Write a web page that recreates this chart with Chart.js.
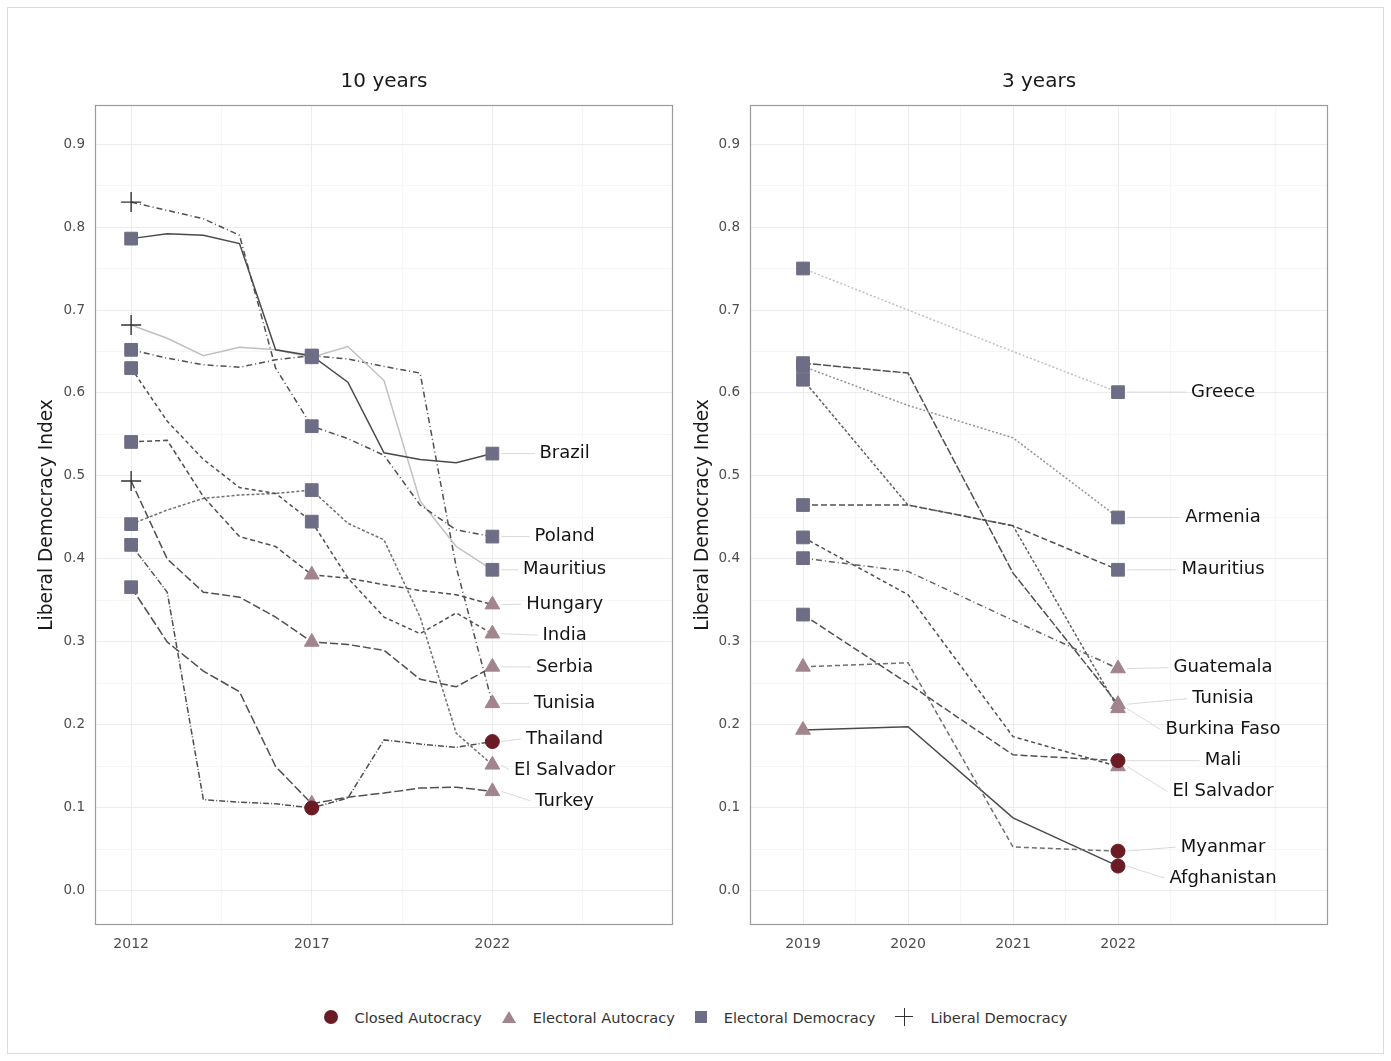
<!DOCTYPE html>
<html>
<head>
<meta charset="utf-8">
<script src="https://cdn.jsdelivr.net/npm/chart.js@4.4.0/dist/chart.umd.min.js"></script>
<style>
  body { margin: 0; background: #fff; width: 1391px; height: 1061px; position: relative; overflow: hidden; font-family: "DejaVu Sans", sans-serif; }
  .frame { position: absolute; left: 7px; top: 7px; width: 1375px; height: 1045px; border: 1px solid #dcdcdc; }
  #c10 { position: absolute; left: 0; top: 0; }
  #c3 { position: absolute; left: 655px; top: 0; }
  .legend { position: absolute; left: 0; top: 1006px; width: 1391px; height: 22px; display: flex; justify-content: center; align-items: center; font-size: 14.6px; color: #333; }
  .legend .t { margin-right: 20px; }
  .legend .m { display: inline-block; margin-right: 17px; position: relative; }
  .circ { width: 14px; height: 14px; border-radius: 50%; background: #6b1b24; }
  .tri { width: 0; height: 0; border-left: 7px solid transparent; border-right: 7px solid transparent; border-bottom: 12px solid #a2858c; }
  .sq { width: 12px; height: 12px; background: #6e6d86; }
  .plus { width: 18px; height: 18px; }
  .plus:before, .plus:after { content: ""; position: absolute; background: #333; }
  .plus:before { left: 0; top: 8px; width: 18px; height: 1.4px; }
  .plus:after { left: 8.3px; top: 0; width: 1.4px; height: 18px; }
</style>
</head>
<body>
<div class="frame"></div>
<canvas id="c10" width="690" height="965"></canvas>
<canvas id="c3" width="690" height="965"></canvas>
<div class="legend">
  <span class="m circ"></span><span class="t">Closed Autocracy</span>
  <span class="m tri"></span><span class="t">Electoral Autocracy</span>
  <span class="m sq"></span><span class="t">Electoral Democracy</span>
  <span class="m plus"></span><span class="t" style="margin-right:0">Liberal Democracy</span>
</div>
<script>
// ---- 10 years panel ----
const years10 = [2012, 2013, 2014, 2015, 2016, 2017, 2018, 2019, 2020, 2021, 2022];
const markYears10 = [2012, 2017, 2022];
const names10 = ['Brazil', 'Poland', 'Mauritius', 'Hungary', 'India', 'Serbia', 'Tunisia', 'Thailand', 'El Salvador', 'Turkey'];
const brazil10     = [0.786, 0.792, 0.790, 0.780, 0.652, 0.645, 0.613, 0.528, 0.520, 0.516, 0.527];
const poland10     = [0.830, 0.820, 0.810, 0.790, 0.630, 0.560, 0.545, 0.525, 0.465, 0.435, 0.427];
const mauritius10  = [0.682, 0.666, 0.645, 0.655, 0.652, 0.643, 0.656, 0.615, 0.470, 0.415, 0.387];
const hungary10    = [0.541, 0.543, 0.475, 0.427, 0.415, 0.381, 0.377, 0.369, 0.362, 0.357, 0.345];
const india10      = [0.630, 0.566, 0.520, 0.486, 0.479, 0.445, 0.377, 0.330, 0.310, 0.335, 0.310];
const serbia10     = [0.494, 0.400, 0.360, 0.354, 0.330, 0.300, 0.297, 0.290, 0.255, 0.246, 0.270];
const tunisia10    = [0.652, 0.642, 0.634, 0.631, 0.640, 0.645, 0.641, 0.632, 0.624, 0.390, 0.226];
const thailand10   = [0.417, 0.360, 0.110, 0.107, 0.105, 0.100, 0.112, 0.182, 0.177, 0.173, 0.180];
const elSalvador10 = [0.442, 0.459, 0.473, 0.477, 0.479, 0.483, 0.443, 0.423, 0.330, 0.190, 0.152];
const turkey10     = [0.366, 0.300, 0.265, 0.240, 0.150, 0.105, 0.113, 0.118, 0.124, 0.125, 0.120];
// regime at 2012 / 2017 / 2022
const regimes10 = [
  ['ED', 'ED', 'ED'], ['LD', 'ED', 'ED'], ['LD', 'ED', 'ED'], ['ED', 'EA', 'EA'], ['ED', 'ED', 'EA'],
  ['LD', 'EA', 'EA'], ['ED', 'ED', 'EA'], ['ED', 'CA', 'CA'], ['ED', 'ED', 'EA'], ['ED', 'EA', 'EA']
];

// ---- 3 years panel ----
const years3 = [2019, 2020, 2021, 2022];
const markYears3 = [2019, 2022];
const names3 = ['Greece', 'Armenia', 'Mauritius', 'Guatemala', 'Tunisia', 'Burkina Faso', 'Mali', 'El Salvador', 'Myanmar', 'Afghanistan'];
const greece3      = [0.750, 0.700, 0.650, 0.601];
const armenia3     = [0.632, 0.585, 0.546, 0.450];
const mauritius3   = [0.465, 0.465, 0.440, 0.387];
const guatemala3   = [0.401, 0.385, 0.326, 0.268];
const tunisia3     = [0.636, 0.624, 0.383, 0.225];
const burkina3     = [0.616, 0.465, 0.440, 0.220];
const mali3        = [0.333, 0.250, 0.164, 0.157];
const elSalvador3  = [0.426, 0.357, 0.186, 0.150];
const myanmar3     = [0.270, 0.275, 0.053, 0.048];
const afghanistan3 = [0.194, 0.198, 0.088, 0.030];
const regimes3 = [
  ['ED', 'ED'], ['ED', 'ED'], ['ED', 'ED'], ['ED', 'EA'], ['ED', 'EA'],
  ['ED', 'EA'], ['ED', 'CA'], ['ED', 'EA'], ['EA', 'CA'], ['EA', 'CA']
];

const yTicks = [0, 0.05, 0.1, 0.15, 0.2, 0.25, 0.3, 0.35, 0.4, 0.45, 0.5, 0.55, 0.6, 0.65, 0.7, 0.75, 0.8, 0.85, 0.9];

// styles
const dash10 = [[], [6, 3, 1, 3], [], [5, 3], [4, 3], [8, 3], [6, 3, 1, 3], [6, 2, 1, 2], [3, 2], [9, 3]];
const col10 = ['#4a4a4a', '#505050', '#c0c0c0', '#505050', '#505050', '#505050', '#505050', '#505050', '#707070', '#505050'];
const dash3 = [[2, 2], [2, 2], [6, 3], [6, 3, 1, 3], [8, 2], [3, 2], [7, 3], [4, 3], [5, 3], []];
const col3 = ['#c0c0c0', '#949494', '#505050', '#606060', '#505050', '#606060', '#505050', '#505050', '#707070', '#4a4a4a'];

const markerStyle = {
  CA: { shape: 'circle', r: 7, fill: '#6b1b24', stroke: '#6b1b24', w: 1 },
  EA: { shape: 'triangle', r: 8.5, fill: '#a2858c', stroke: '#a2858c', w: 1 },
  ED: { shape: 'rect', r: 9, fill: '#6e6d86', stroke: '#6e6d86', w: 1 },
  LD: { shape: 'cross', r: 10, fill: '#333', stroke: '#333', w: 1.4 }
};
const FONT = '"DejaVu Sans", sans-serif';

function buildDatasets(years, markYears, series, regimes, dashes, colors) {
  const ds = [];
  series.forEach((vals, i) => {
    ds.push({
      data: years.map((yr, k) => ({ x: yr, y: vals[k] })),
      borderColor: colors[i], borderDash: dashes[i], borderWidth: 1.5,
      pointRadius: 0, tension: 0, fill: false, order: 1
    });
    const st = regimes[i].map(r => markerStyle[r]);
    ds.push({
      data: markYears.map(yr => ({ x: yr, y: vals[years.indexOf(yr)] })),
      showLine: false, order: 0,
      pointStyle: st.map(s => s.shape), pointRadius: st.map(s => s.r),
      pointBackgroundColor: st.map(s => s.fill), pointBorderColor: st.map(s => s.stroke),
      pointBorderWidth: st.map(s => s.w)
    });
  });
  return ds;
}

// push overlapping labels apart, mostly downward
function repel(ys, gap) {
  const idx = ys.map((v, i) => i).sort((a, b) => ys[a] - ys[b]);
  const out = ys.slice();
  for (let it = 0; it < 800; it++) {
    let moved = false;
    for (let k = 0; k < idx.length - 1; k++) {
      const a = idx[k], b = idx[k + 1];
      const d = out[b] - out[a];
      if (d < gap - 0.05) { const s = gap - d; out[a] -= s * 0.25; out[b] += s * 0.75; moved = true; }
    }
    if (!moved) break;
  }
  return out;
}

const deco = {
  id: 'deco',
  afterDraw(chart, args, o) {
    const { ctx, chartArea: a, scales: { x, y } } = chart;
    ctx.save();
    ctx.strokeStyle = '#9b9b9b';
    ctx.lineWidth = 1.2;
    ctx.strokeRect(a.left + 0.5, a.top + 0.5, a.right - a.left - 1, a.bottom - a.top - 1);

    ctx.fillStyle = '#1a1a1a';
    ctx.textAlign = 'center';
    ctx.textBaseline = 'middle';
    ctx.font = '20px ' + FONT;
    ctx.fillText(o.title, (a.left + a.right) / 2, 82);

    ctx.save();
    ctx.translate(o.yTitleX, (a.top + a.bottom) / 2);
    ctx.rotate(-Math.PI / 2);
    ctx.font = '18.6px ' + FONT;
    ctx.fillText('Liberal Democracy Index', 0, 0);
    ctx.restore();

    // end labels with connectors
    const mx = x.getPixelForValue(o.endYear);
    const lx = x.getPixelForValue(o.labelYear);
    const py = o.lastVals.map(v => y.getPixelForValue(v));
    const ly = repel(py, 31);
    ctx.font = '18px ' + FONT;
    o.names.forEach((n, i) => {
      const w = ctx.measureText(n).width;
      ctx.strokeStyle = '#dadada';
      ctx.lineWidth = 1;
      ctx.beginPath();
      ctx.moveTo(mx + 9, py[i]);
      ctx.lineTo(lx - w / 2 - 5, ly[i]);
      ctx.stroke();
      ctx.fillStyle = '#141414';
      ctx.fillText(n, lx, ly[i]);
    });
    ctx.restore();
  }
};

function makeOptions(xMin, xMax, xMajor, xMinor, decoOpts) {
  const xAll = xMajor.concat(xMinor).sort((p, q) => p - q);
  return {
    responsive: false,
    animation: false,
    layout: { padding: { top: 105, right: 17, left: 0, bottom: 0 } },
    plugins: { legend: { display: false }, tooltip: { enabled: false }, deco: decoOpts },
    scales: {
      x: {
        type: 'linear', min: xMin, max: xMax,
        afterBuildTicks: s => { s.ticks = xAll.map(v => ({ value: v })); },
        afterFit: s => { s.height = 40; },
        border: { display: false },
        grid: { drawTicks: false, color: c => xMajor.includes(c.tick.value) ? '#ececec' : '#f6f6f6' },
        ticks: {
          padding: 11, autoSkip: false, maxRotation: 0, color: '#4d4d4d',
          font: { family: FONT, size: 14 },
          callback: v => xMajor.includes(v) ? String(v) : ''
        }
      },
      y: {
        min: -0.041, max: 0.947,
        afterBuildTicks: s => { s.ticks = yTicks.map(v => ({ value: v })); },
        afterFit: s => { s.width = 95; },
        border: { display: false },
        grid: { drawTicks: false, color: c => Math.round(c.tick.value * 100) % 10 === 0 ? '#ececec' : '#f6f6f6' },
        ticks: {
          padding: 10, autoSkip: false, color: '#4d4d4d',
          font: { family: FONT, size: 13.5 },
          callback: v => Math.round(v * 100) % 10 === 0 ? v.toFixed(1) : ''
        }
      }
    }
  };
}

const series10 = [brazil10, poland10, mauritius10, hungary10, india10, serbia10, tunisia10, thailand10, elSalvador10, turkey10];
const series3 = [greece3, armenia3, mauritius3, guatemala3, tunisia3, burkina3, mali3, elSalvador3, myanmar3, afghanistan3];

new Chart(document.getElementById('c10'), {
  type: 'line',
  data: { datasets: buildDatasets(years10, markYears10, series10, regimes10, dash10, col10) },
  options: makeOptions(2011, 2027, [2012, 2017, 2022], [2014.5, 2019.5, 2024.5], {
    title: '10 years', yTitleX: 47, names: names10,
    lastVals: series10.map(s => s[s.length - 1]), endYear: 2022, labelYear: 2024
  }),
  plugins: [deco]
});

new Chart(document.getElementById('c3'), {
  type: 'line',
  data: { datasets: buildDatasets(years3, markYears3, series3, regimes3, dash3, col3) },
  options: makeOptions(2018.495, 2024, [2019, 2020, 2021, 2022], [2019.5, 2020.5, 2021.5, 2022.5, 2023.5], {
    title: '3 years', yTitleX: 48, names: names3,
    lastVals: series3.map(s => s[s.length - 1]), endYear: 2022, labelYear: 2023
  }),
  plugins: [deco]
});
</script>
</body>
</html>
